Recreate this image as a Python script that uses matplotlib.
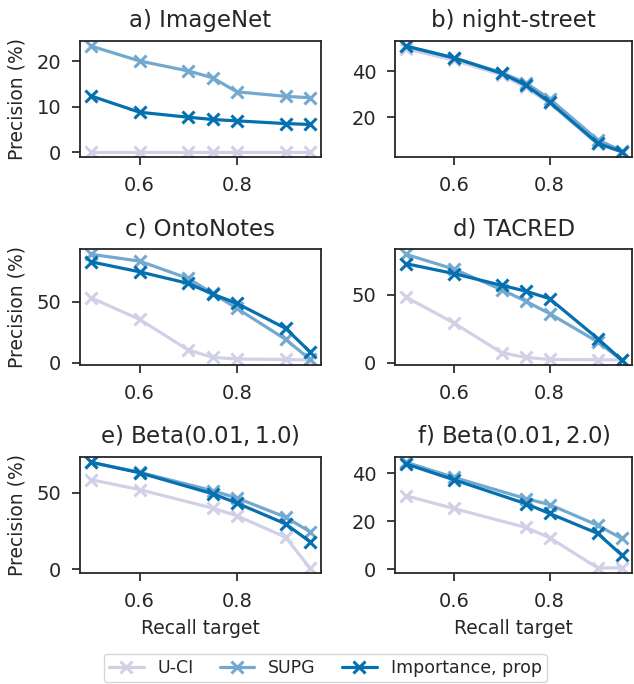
import numpy as np
import matplotlib
matplotlib.use("Agg")
import matplotlib.pyplot as plt
import seaborn as sns

sns.set_style("ticks")

# recall targets
recall_a = [0.5, 0.6, 0.7, 0.75, 0.8, 0.9, 0.95]
recall_e = [0.5, 0.6, 0.75, 0.8, 0.9, 0.95]

titles = ["a) ImageNet", "b) night-street", "c) OntoNotes", "d) TACRED",
          r"e) Beta$(0.01, 1.0)$", r"f) Beta$(0.01, 2.0)$"]

# y tick positions per panel
yticks = [[0, 10, 20], [20, 40], [0, 50], [0, 50], [0, 50], [0, 20, 40]]

# precision (%) per dataset: U-CI, SUPG, Importance
uci_a = [0.1, 0.1, 0.1, 0.1, 0.1, 0.1, 0.1]
supg_a = [23.4, 20.1, 17.9, 16.4, 13.3, 12.3, 12.0]
imp_a = [12.4, 8.8, 7.7, 7.2, 6.9, 6.3, 6.1]

uci_b = [50.0, 45.0, 38.5, 33.0, 26.0, 8.0, 4.8]
supg_b = [51.0, 46.0, 39.5, 35.0, 28.0, 10.0, 5.2]
imp_b = [51.2, 46.0, 39.2, 34.0, 26.5, 8.5, 4.8]

uci_c = [53.3, 35.6, 10.4, 4.4, 3.0, 2.6, 2.2]
supg_c = [89.0, 83.4, 69.2, 56.9, 44.6, 19.2, 2.8]
imp_c = [82.8, 74.6, 65.1, 56.3, 48.7, 28.2, 9.0]

uci_d = [48.3, 29.3, 7.3, 3.9, 2.4, 2.2, 2.0]
supg_d = [79.8, 68.9, 53.7, 45.3, 36.1, 15.4, 2.0]
imp_d = [72.9, 65.6, 56.9, 52.7, 47.1, 17.8, 2.0]

uci_e = [58.7, 52.2, 40.1, 35.1, 21.1, 1.0]
supg_e = [70.0, 63.5, 51.5, 46.7, 34.2, 24.7]
imp_e = [70.1, 63.2, 49.5, 43.4, 29.8, 18.2]

uci_f = [30.6, 25.3, 17.4, 13.1, 0.5, 0.5]
supg_f = [44.6, 38.3, 29.4, 26.9, 18.3, 12.8]
imp_f = [43.9, 37.3, 27.3, 23.2, 14.9, 5.9]

data = [
    (recall_a, uci_a, supg_a, imp_a),
    (recall_a, uci_b, supg_b, imp_b),
    (recall_a, uci_c, supg_c, imp_c),
    (recall_a, uci_d, supg_d, imp_d),
    (recall_e, uci_e, supg_e, imp_e),
    (recall_e, uci_f, supg_f, imp_f),
]

names = ["U-CI", "SUPG", "Importance, prop"]
colors = ["#d0d1e6", "#74a9cf", "#0570b0"]

fig = plt.figure(figsize=(6.34, 6.84), dpi=100)

lefts = [0.126, 0.623]
widths = [0.380, 0.3745]
bottoms = [0.7705, 0.466, 0.162]
h = 0.170

dark = "#262626"
for i, (rec, u, s, m) in enumerate(data):
    r, c = divmod(i, 2)
    ax = fig.add_axes([lefts[c], bottoms[r], widths[c], h])
    for vals, name, col in zip([u, s, m], names, colors):
        ax.plot(rec, vals, color=col, lw=2.3, marker="x", ms=9, mew=2.2, label=name)
    ax.set_title(titles[i], fontsize=16.5, color=dark, pad=10)
    ax.set_xticks([0.6, 0.8])
    ax.set_yticks(yticks[i])
    ax.tick_params(labelsize=14, colors=dark, length=6, width=1.25, pad=7.5)
    for sp in ax.spines.values():
        sp.set_color(dark)
        sp.set_linewidth(1.3)
    if c == 0:
        ax.set_ylabel("Precision (%)", fontsize=13.5, color=dark, labelpad=7)
    if r == 2:
        ax.set_xlabel("Recall target", fontsize=13.5, color=dark, labelpad=6)

handles, labels = ax.get_legend_handles_labels()
fig.legend(handles, labels, loc="center", bbox_to_anchor=(0.513, 0.0234), ncol=3,
           fontsize=12.5, frameon=True, handlelength=2.0, handletextpad=0.8,
           columnspacing=1.5, borderpad=0.3)

fig.savefig("out.png", dpi=100)
